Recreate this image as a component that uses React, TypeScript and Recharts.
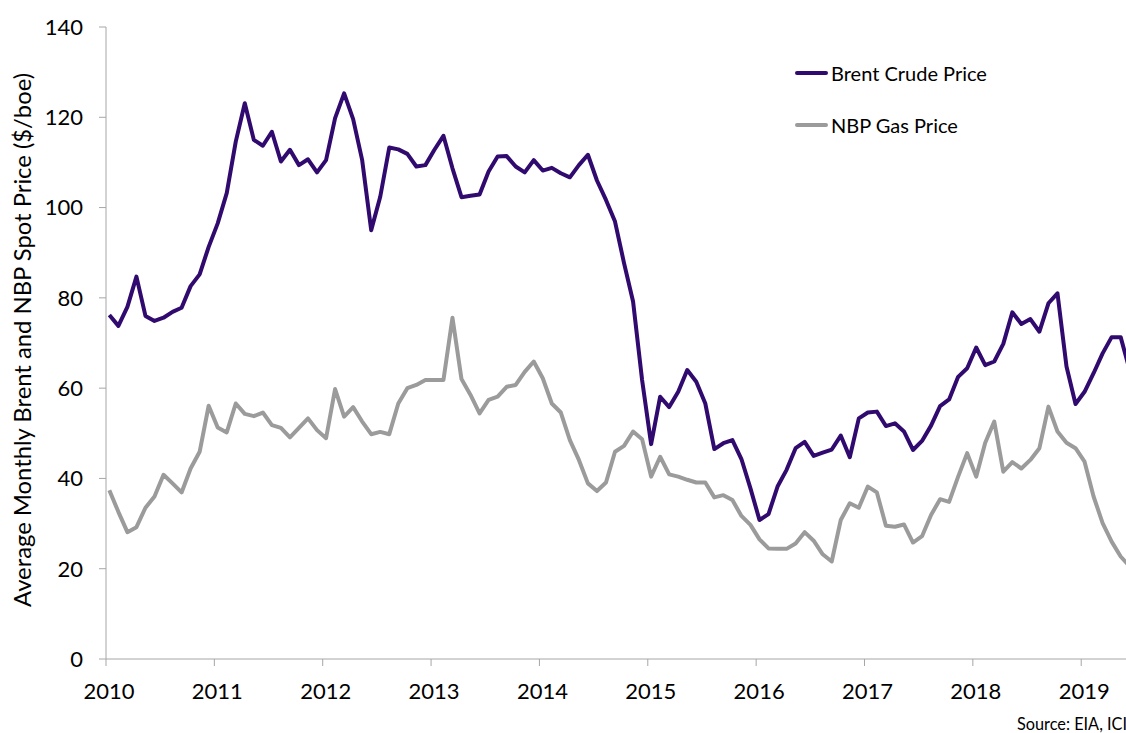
import React from 'react';
import { LineChart, Line, XAxis, YAxis } from 'recharts';

const yearLabels = ['2010', '2011', '2012', '2013', '2014', '2015', '2016', '2017', '2018', '2019'];
const yTicks = [0, 20, 40, 60, 80, 100, 120, 140];

// Monthly values, Jan 2010 onwards
const brent = [
  76.2, 73.8, 78.0, 84.7, 76.0, 74.9, 75.6, 76.9, 77.8, 82.6, 85.2, 91.3,
  96.5, 103.2, 114.6, 123.1, 115.0, 113.7, 116.8, 110.2, 112.8, 109.4, 110.7, 107.8,
  110.5, 119.8, 125.3, 119.6, 110.5, 95.0, 102.4, 113.3, 112.9, 111.9, 109.1, 109.4,
  112.8, 115.9, 108.7, 102.3, 102.6, 102.9, 108.0, 111.3, 111.4, 109.1, 107.8, 110.5,
  108.2, 108.8, 107.6, 106.7, 109.4, 111.7, 106.0, 101.7, 96.9, 87.7, 79.2, 61.8,
  47.6, 58.1, 55.8, 59.2, 64.0, 61.4, 56.6, 46.5, 47.8, 48.5, 44.3, 37.8,
  30.8, 32.1, 38.2, 41.9, 46.7, 48.1, 45.0, 45.7, 46.4, 49.5, 44.7, 53.3,
  54.6, 54.8, 51.6, 52.2, 50.4, 46.3, 48.3, 51.7, 56.0, 57.5, 62.5, 64.4,
  69.0, 65.1, 65.9, 69.8, 76.8, 74.2, 75.3, 72.5, 78.8, 81.0, 64.8, 56.5,
  59.2, 63.3, 67.7, 71.3, 71.3, 64.0,
];

const nbp = [
  37.4, 32.6, 28.1, 29.2, 33.5, 36.0, 40.8, 38.9, 36.9, 42.2, 45.9, 56.1,
  51.3, 50.2, 56.6, 54.3, 53.8, 54.6, 51.8, 51.2, 49.1, 51.2, 53.3, 50.7,
  48.9, 59.8, 53.7, 55.8, 52.6, 49.8, 50.3, 49.8, 56.6, 60.0, 60.7, 61.8,
  61.8, 61.8, 75.6, 62.0, 58.5, 54.4, 57.4, 58.1, 60.3, 60.7, 63.6, 65.9,
  62.2, 56.6, 54.6, 48.5, 44.1, 38.9, 37.2, 39.1, 45.9, 47.2, 50.4, 48.7,
  40.4, 44.8, 40.9, 40.4, 39.7, 39.1, 39.1, 35.8, 36.3, 35.2, 31.7, 29.7,
  26.5, 24.5, 24.4, 24.4, 25.6, 28.1, 26.2, 23.2, 21.6, 30.8, 34.5, 33.5,
  38.2, 36.9, 29.5, 29.3, 29.8, 25.8, 27.2, 31.9, 35.4, 34.8, 40.4, 45.6,
  40.4, 47.9, 52.6, 41.5, 43.6, 42.2, 44.1, 46.7, 55.9, 50.4, 47.9, 46.7,
  43.7, 36.0, 30.1, 26.0, 22.7, 20.5,
];

const MONTH_OFFSET = 0.37;
const data = brent.map((v, i) => ({ t: i + MONTH_OFFSET, brent: v, nbp: nbp[i] }));
const xTicks = yearLabels.map((_, k) => k * 12);

const BRENT_COLOR = '#300a6e';
const NBP_COLOR = '#9b9b9b';
const AXIS_COLOR = '#a6a6a6';
const FONT = 'Lato, "Noto Sans", sans-serif';

const legendItems = [
  { name: 'Brent Crude Price', color: BRENT_COLOR },
  { name: 'NBP Gas Price', color: NBP_COLOR },
];

function LegendBox() {
  return (
    <div style={{ position: 'absolute', left: 795, top: 47, fontFamily: FONT }}>
      {legendItems.map((s) => (
        <div key={s.name} style={{ display: 'flex', alignItems: 'center', height: 52 }}>
          <span style={{ display: 'inline-block', width: 33, height: 4, background: s.color, borderRadius: 2, marginRight: 3 }} />
          <span style={{ fontSize: 20, color: '#000', whiteSpace: 'nowrap' }}>{s.name}</span>
        </div>
      ))}
    </div>
  );
}

function YLabel(props: any) {
  const vb = props.viewBox || { x: 0, y: 27, width: 106, height: 632 };
  const cx = vb.x + 22;
  const cy = vb.y + vb.height / 2 - 3;
  return (
    <text
      x={cx}
      y={cy}
      transform={`rotate(-90 ${cx} ${cy})`}
      textAnchor="middle"
      dominantBaseline="central"
      fontFamily={FONT}
      fontSize={23.8}
      fill="#000"
    >
      Average Monthly Brent and NBP Spot Price ($/boe)
    </text>
  );
}

export default function App() {
  return (
    <div style={{ position: 'absolute', left: 0, top: 0, width: 1126, height: 733, background: '#fff', overflow: 'hidden' }}>
      <LineChart width={1126} height={733} data={data} margin={{ top: 27, right: 0, bottom: 0, left: 0 }}>
        <XAxis
          type="number"
          dataKey="t"
          domain={[0, 112.96]}
          allowDataOverflow
          ticks={xTicks}
          tickFormatter={(v: number) => yearLabels[Math.round(v / 12)]}
          height={74}
          tickSize={7}
          tickMargin={17}
          axisLine={{ stroke: AXIS_COLOR }}
          tickLine={{ stroke: AXIS_COLOR }}
          tick={{ fill: '#000', fontSize: 22, fontFamily: FONT, dx: 3 }}
        />
        <YAxis
          type="number"
          domain={[0, 140]}
          ticks={yTicks}
          width={106}
          tickSize={7}
          tickMargin={16}
          axisLine={{ stroke: AXIS_COLOR }}
          tickLine={{ stroke: AXIS_COLOR }}
          tick={{ fill: '#000', fontSize: 22, fontFamily: FONT }}
          label={{ value: 'Average Monthly Brent and NBP Spot Price ($/boe)', content: (p: any) => <YLabel {...p} /> }}
        />
        <Line
          type="linear"
          dataKey="nbp"
          name="NBP Gas Price"
          stroke={NBP_COLOR}
          strokeWidth={4}
          dot={false}
          strokeLinejoin="round"
          isAnimationActive={false}
        />
        <Line
          type="linear"
          dataKey="brent"
          name="Brent Crude Price"
          stroke={BRENT_COLOR}
          strokeWidth={4}
          dot={false}
          strokeLinejoin="round"
          isAnimationActive={false}
        />
      </LineChart>
      <LegendBox />
      <div
        style={{
          position: 'absolute',
          left: 1017,
          top: 714,
          fontFamily: FONT,
          fontSize: 16.3,
          color: '#000',
          whiteSpace: 'nowrap',
        }}
      >
        Source: EIA, ICI
      </div>
    </div>
  );
}
